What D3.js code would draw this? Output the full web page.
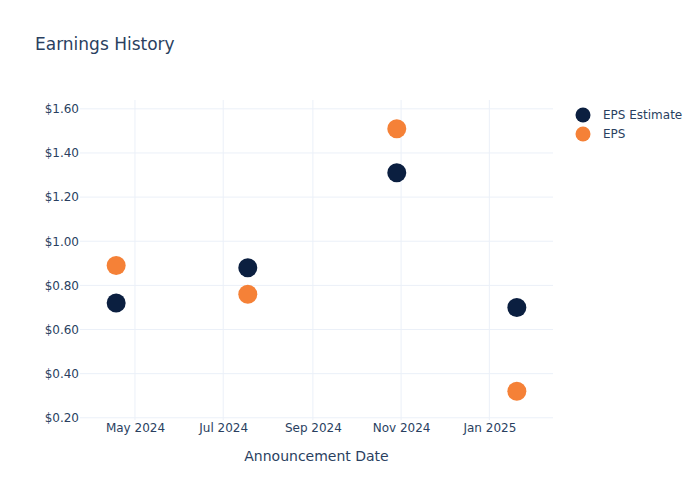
<!DOCTYPE html>
<html>
<head>
<meta charset="utf-8">
<script src="https://cdn.jsdelivr.net/npm/d3@7"></script>
<style>
  body { margin: 0; background: #fff; }
  text { font-family: "DejaVu Sans", sans-serif; fill: #2a3f5f; }
</style>
</head>
<body>
<div id="chart"></div>
<script>
// Announcement dates and EPS values
const dates = ["2024-04-18", "2024-07-18", "2024-10-29", "2025-01-20"];
const epsEstimate = [0.72, 0.88, 1.31, 0.70];
const epsActual = [0.89, 0.76, 1.51, 0.32];
const yTicks = [0.2, 0.4, 0.6, 0.8, 1.0, 1.2, 1.4, 1.6];
const xTicks = ["2024-05-01", "2024-07-01", "2024-09-01", "2024-11-01", "2025-01-01"];
const seriesNames = ["EPS Estimate", "EPS"];
const seriesColors = ["#0b1f40", "#f58137"];

const parse = d3.timeParse("%Y-%m-%d");
const width = 700, height = 500;
const margin = { top: 100, right: 147, bottom: 80, left: 80 };
const w = width - margin.left - margin.right;
const h = height - margin.top - margin.bottom;

const svg = d3.select("#chart").append("svg")
    .attr("width", width)
    .attr("height", height);

const g = svg.append("g")
    .attr("transform", "translate(" + margin.left + "," + margin.top + ")");

const x = d3.scaleTime()
    .domain([parse("2024-03-24"), parse("2025-02-14")])
    .range([0, w]);
const y = d3.scaleLinear()
    .domain([0.19, 1.64])
    .range([h, 0]);

// grid
g.append("g").selectAll("line").data(yTicks).join("line")
    .attr("x1", 0).attr("x2", w)
    .attr("y1", d => y(d)).attr("y2", d => y(d))
    .attr("stroke", "#ebf0f8").attr("stroke-width", 1);
g.append("g").selectAll("line").data(xTicks).join("line")
    .attr("x1", d => x(parse(d))).attr("x2", d => x(parse(d)))
    .attr("y1", 0).attr("y2", h)
    .attr("stroke", "#ebf0f8").attr("stroke-width", 1);

// axes
const xAxis = g.append("g")
    .attr("transform", "translate(0," + h + ")")
    .call(d3.axisBottom(x).tickValues(xTicks.map(parse)).tickFormat(d3.timeFormat("%b %Y")).tickSize(0).tickPadding(3));
const yAxis = g.append("g")
    .call(d3.axisLeft(y).tickValues(yTicks).tickFormat(d => "$" + d.toFixed(2)).tickSize(0).tickPadding(1));
[xAxis, yAxis].forEach(a => {
    a.select(".domain").remove();
    a.selectAll("text").style("font-size", "12px").style("font-family", "DejaVu Sans, sans-serif").attr("fill", "#2a3f5f");
});

// axis title
svg.append("text")
    .attr("x", margin.left + w / 2).attr("y", 461)
    .attr("text-anchor", "middle")
    .style("font-size", "14px")
    .text("Announcement Date");

// title
svg.append("text")
    .attr("x", 35).attr("y", 50)
    .style("font-size", "17px")
    .text("Earnings History");

// markers
const series = [epsEstimate, epsActual];
series.forEach((vals, i) => {
    g.append("g").selectAll("circle").data(vals).join("circle")
        .attr("cx", (d, j) => x(parse(dates[j])))
        .attr("cy", d => y(d))
        .attr("r", 9.5)
        .attr("fill", seriesColors[i]);
});

// legend
const legend = svg.append("g").attr("transform", "translate(583,115)");
seriesNames.forEach((name, i) => {
    legend.append("circle")
        .attr("cx", 0).attr("cy", i * 19)
        .attr("r", 7.5)
        .attr("fill", seriesColors[i]);
    legend.append("text")
        .attr("x", 20).attr("y", i * 19 + 4)
        .style("font-size", "12px")
        .text(name);
});
</script>
</body>
</html>
